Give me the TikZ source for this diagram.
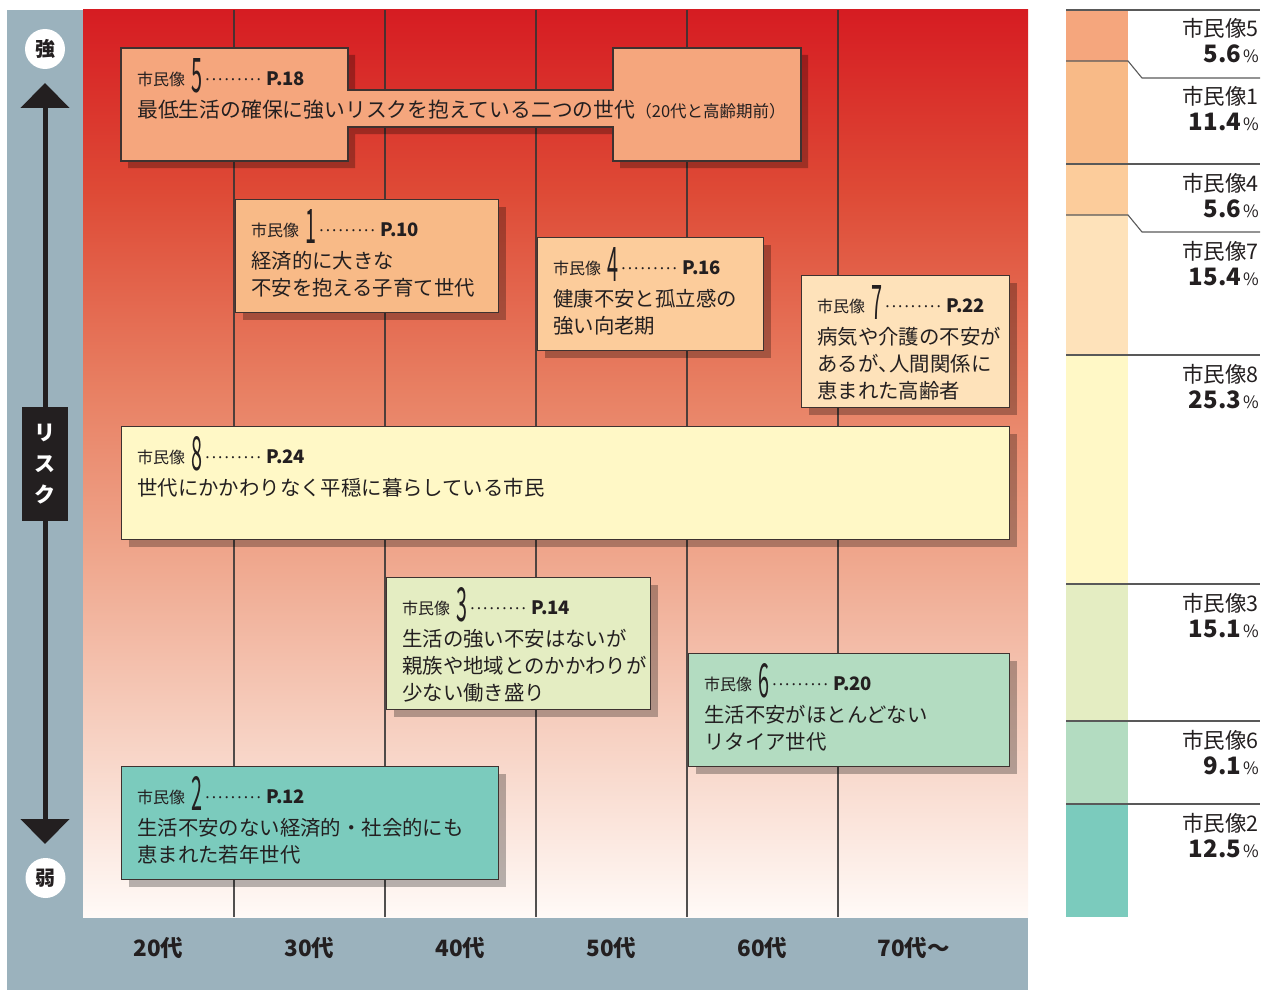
\documentclass[tikz,border=0pt]{standalone}
\usepackage{fontspec}
\usepackage{graphicx}
\setmainfont{Noto Sans CJK JP}
\usetikzlibrary{arrows.meta,shadows}

\definecolor{framec}{HTML}{9BB2BD}
\definecolor{ink}{HTML}{231F20}
\definecolor{boxline}{HTML}{3E3230}
\definecolor{cA}{HTML}{F5A67D}
\definecolor{cB}{HTML}{F8BA87}
\definecolor{cC}{HTML}{FCCC9B}
\definecolor{cD}{HTML}{FEE2BA}
\definecolor{cE}{HTML}{FFF8C6}
\definecolor{cF}{HTML}{E4EDC2}
\definecolor{cG}{HTML}{B3DCC1}
\definecolor{cH}{HTML}{7BCBBD}
\definecolor{gz}{HTML}{D61C22}
\definecolor{gy}{HTML}{DE4A36}
\definecolor{gx}{HTML}{E88063}
\definecolor{gw}{HTML}{EFA68C}
\definecolor{gv}{HTML}{F6CDBD}
\definecolor{gu}{HTML}{FFFAF7}

\pgfdeclareverticalshading{chartbg}{100bp}{color(0bp)=(gu); color(25bp)=(gu); color(36bp)=(gv); color(45bp)=(gw); color(54bp)=(gx); color(65bp)=(gy); color(75bp)=(gz); color(100bp)=(gz)}

\newcommand\hdr[2]{{\fontsize{16}{16}\selectfont 市民像}\hspace{6pt}\raisebox{-7pt}{\resizebox{11pt}{34pt}{#1}}\hspace{2pt}\hbox to 58pt{\fontsize{16}{16}\selectfont\cleaders\hbox to 6.4pt{\hss·\hss}\hfill}\hspace{4pt}{\fontsize{18.5}{18}\selectfont\bfseries P.#2}}
\newcommand\narrow[1]{\makebox[11pt][l]{#1}}

\tikzset{
  box/.style={draw=boxline, line width=1.2pt, drop shadow={shadow xshift=7pt, shadow yshift=-7pt, fill=black, opacity=0.28}},
  hd/.style={anchor=base west, inner sep=0pt, text=ink},
  body/.style={anchor=base west, inner sep=0pt, text=ink, font=\fontsize{20.4}{27}\selectfont},
  gridline/.style={draw=black!80, line width=1.1pt, opacity=0.85},
  lgline/.style={draw=black!65, line width=1.1pt},
  lgname/.style={anchor=base east, inner sep=0pt, text=ink, font=\fontsize{21.5}{22}\selectfont},
  lgnum/.style={anchor=base east, inner sep=0pt, text=ink, font=\fontsize{24}{24}\selectfont\bfseries},
  axlab/.style={anchor=base, inner sep=0pt, text=ink, font=\fontsize{22.5}{22}\selectfont\bfseries},
  endlab/.style={circle, fill=white, minimum size=40pt, inner sep=0pt, text=ink, font=\fontsize{20}{20}\selectfont\bfseries},
  risklab/.style={inner sep=0pt, text=white, font=\fontsize{21}{21}\selectfont\bfseries}
}
\newcommand\pct[1]{#1\hspace{2pt}{\fontsize{17}{17}\selectfont\mdseries\%}}

\begin{document}
\begin{tikzpicture}[x=1pt, y=-1pt]
\useasboundingbox (0,0) rectangle (1262,990);

% frame and chart background
\fill[framec] (7,10) rectangle (1028,990);
\shade[shading=chartbg] (83,10) rectangle (1028,917);
\foreach \x in {234,385,536,687,838} \draw[gridline] (\x,10) -- (\x,917);

% left axis
\coordinate (atop) at (45,83);
\coordinate (abot) at (45,844);
\draw[ink, line width=5pt, {Triangle[length=25pt,width=48pt]}-{Triangle[length=25pt,width=48pt]}] (atop) -- (abot);
\node[fill=ink, minimum width=46pt, minimum height=114pt, inner sep=0pt] (risk) at (45,464) {};
\node[risklab] (r1) at (45,433) {リ};
\node[risklab] (r2) at (45,464) {ス};
\node[risklab] (r3) at (45,494) {ク};
\node[endlab] (strong) at (45,49) {強};
\node[endlab] (weak) at (45.5,878) {弱};

% axis labels
\node[axlab] (a20) at (158.5,956) {20代};
\node[axlab] (a30) at (309.5,956) {30代};
\node[axlab] (a40) at (460.5,956) {40代};
\node[axlab] (a50) at (611.5,956) {50代};
\node[axlab] (a60) at (762.5,956) {60代};
\node[axlab] (a70) at (913.5,956) {70代～};

% box 5
\draw[box, fill=cA] (121,48) -- (348,48) -- (348,90) -- (613,90) -- (613,48) -- (801,48) -- (801,161) -- (613,161) -- (613,127) -- (348,127) -- (348,161) -- (121,161) -- cycle;
\node[hd] (h5) at (137,85) {\hdr{5}{18}};
\node[body] (t5a) at (137,117.5) {\fontsize{20.8}{27}\selectfont 最低生活の確保に強いリスクを抱えている二つの世代{\fontsize{16.5}{17}\selectfont（20代と高齢期前）}};

% box 1
\node[box, fill=cB, anchor=north west, inner sep=0pt, minimum width=263pt, minimum height=113pt] (b1) at (235,199) {};
\node[hd] (h1) at (251,236) {\hdr{1}{10}};
\node[body] (t1a) at (251,268.5) {経済的に大きな};
\node[body] (t1b) at (251,295.5) {不安を抱える子育て世代};

% box 4
\node[box, fill=cC, anchor=north west, inner sep=0pt, minimum width=226pt, minimum height=113pt] (b4) at (537,237) {};
\node[hd] (h4) at (553,274) {\hdr{4}{16}};
\node[body] (t4a) at (553,306.5) {健康不安と孤立感の};
\node[body] (t4b) at (553,333.5) {強い向老期};

% box 7
\node[box, fill=cD, anchor=north west, inner sep=0pt, minimum width=208pt, minimum height=132pt] (b7) at (801,275) {};
\node[hd] (h7) at (817,312) {\hdr{7}{22}};
\node[body] (t7a) at (817,344.5) {病気や介護の不安が};
\node[body] (t7b) at (817,371.5) {あるが\narrow{、}人間関係に};
\node[body] (t7c) at (817,398.5) {恵まれた高齢者};

% box 8
\node[box, fill=cE, anchor=north west, inner sep=0pt, minimum width=888pt, minimum height=113pt] (b8) at (121,426) {};
\node[hd] (h8) at (137,463) {\hdr{8}{24}};
\node[body] (t8a) at (137,495.5) {世代にかかわりなく平穏に暮らしている市民};

% box 3
\node[box, fill=cF, anchor=north west, inner sep=0pt, minimum width=264pt, minimum height=132pt] (b3) at (386,577) {};
\node[hd] (h3) at (402,614) {\hdr{3}{14}};
\node[body] (t3a) at (402,646.5) {生活の強い不安はないが};
\node[body] (t3b) at (402,673.5) {親族や地域とのかかわりが};
\node[body] (t3c) at (402,700.5) {少ない働き盛り};

% box 6
\node[box, fill=cG, anchor=north west, inner sep=0pt, minimum width=321pt, minimum height=113pt] (b6) at (688,653) {};
\node[hd] (h6) at (704,690) {\hdr{6}{20}};
\node[body] (t6a) at (704,722.5) {生活不安がほとんどない};
\node[body] (t6b) at (704,749.5) {リタイア世代};

% box 2
\node[box, fill=cH, anchor=north west, inner sep=0pt, minimum width=377pt, minimum height=113pt] (b2) at (121,766) {};
\node[hd] (h2) at (137,803) {\hdr{2}{12}};
\node[body] (t2a) at (137,835.5) {生活不安のない経済的・社会的にも};
\node[body] (t2b) at (137,862.5) {恵まれた若年世代};

% legend bar
\fill[cA] (1066,10) rectangle (1128,61);
\fill[cB] (1066,61) rectangle (1128,164);
\fill[cC] (1066,164) rectangle (1128,215);
\fill[cD] (1066,215) rectangle (1128,355);
\fill[cE] (1066,355) rectangle (1128,584);
\fill[cF] (1066,584) rectangle (1128,721);
\fill[cG] (1066,721) rectangle (1128,804);
\fill[cH] (1066,804) rectangle (1128,917);
\draw[lgline] (1066,10) -- (1260,10);
\draw[lgline] (1066,61) -- (1128,61) -- (1142,78) -- (1260,78);
\draw[lgline] (1066,164) -- (1260,164);
\draw[lgline] (1066,215) -- (1128,215) -- (1142,232) -- (1260,232);
\draw[lgline] (1066,355) -- (1260,355);
\draw[lgline] (1066,584) -- (1260,584);
\draw[lgline] (1066,721) -- (1260,721);
\draw[lgline] (1066,804) -- (1260,804);

\node[lgname] (n5) at (1259,37) {市民像5};
\node[lgnum] (p5) at (1259,63) {\pct{5.6}};
\node[lgname] (n1) at (1259,105) {市民像1};
\node[lgnum] (p1) at (1259,131) {\pct{11.4}};
\node[lgname] (n4) at (1259,191) {市民像4};
\node[lgnum] (p4) at (1259,217) {\pct{5.6}};
\node[lgname] (n7) at (1259,259) {市民像7};
\node[lgnum] (p7) at (1259,285) {\pct{15.4}};
\node[lgname] (n8) at (1259,382) {市民像8};
\node[lgnum] (p8) at (1259,408) {\pct{25.3}};
\node[lgname] (n3) at (1259,611) {市民像3};
\node[lgnum] (p3) at (1259,637) {\pct{15.1}};
\node[lgname] (n6) at (1259,748) {市民像6};
\node[lgnum] (p6) at (1259,774) {\pct{9.1}};
\node[lgname] (n2) at (1259,831) {市民像2};
\node[lgnum] (p2) at (1259,857) {\pct{12.5}};
\end{tikzpicture}
\end{document}
